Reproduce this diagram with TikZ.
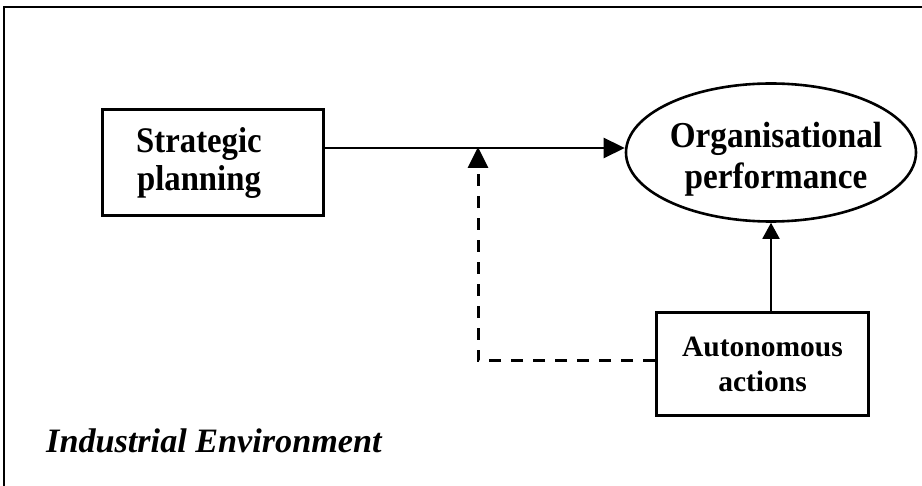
\documentclass[tikz,border=0pt]{standalone}
\usepackage{fontspec}
\setmainfont{Liberation Serif}
\newfontfamily\tallserif[FakeStretch=0.91]{Liberation Serif}
\usetikzlibrary{arrows.meta,shapes.geometric}
\begin{document}
\begin{tikzpicture}[x=1pt,y=-1pt,
  boxnode/.style={draw,line width=3pt,inner sep=0pt},
  boxtext/.style={align=center,inner sep=0pt,font=\tallserif\fontsize{36}{38}\selectfont\bfseries},
  arr/.style={line width=2.6pt,-{Triangle[length=21pt,width=20pt]}},
  thinarr/.style={line width=1.9pt,-{Triangle[length=16pt,width=17pt]}},
  dasharr/.style={line width=3pt,dash pattern=on 12pt off 10pt,-{Triangle[length=21pt,width=20pt]}},
  framestyle/.style={line width=2.2pt}]
\useasboundingbox (0,0) rectangle (922,486);
\draw[framestyle] (4,486) -- (4,7) -- (922,7);
\node[boxnode,minimum width=221pt,minimum height=106pt,
  label={[boxtext,xshift=-14pt]center:Strategic\\planning}] (sp) at (213,162.5) {};
\node[draw,ellipse,line width=2.6pt,minimum width=290pt,minimum height=138pt,inner sep=0pt,
  label={[boxtext,font=\tallserif\fontsize{36.5}{41}\selectfont\bfseries,xshift=5pt,yshift=-7pt]center:Organisational\\performance}] (perf) at (771,152.5) {};
\node[boxnode,minimum width=212pt,minimum height=103pt] (auto) at (762.5,364.5) {};
\node[boxtext,font=\fontsize{29.5}{35}\selectfont\bfseries] (autotext) at (auto.center) {Autonomous\\actions};
\coordinate (jn) at (478,148);
\coordinate (corner) at (478,361);
\draw[arr] (sp.east |- jn) -- (perf.west |- jn);
\draw[thinarr] (auto.north -| perf.south) -- (perf.south);
\draw[dasharr] (auto.west |- corner) -- (corner) -- ([yshift=1pt]jn);
\node[anchor=base west,inner sep=0pt,font=\fontsize{34.2}{40}\selectfont\bfseries\itshape] (env) at (46,453) {Industrial Environment};
\end{tikzpicture}
\end{document}
